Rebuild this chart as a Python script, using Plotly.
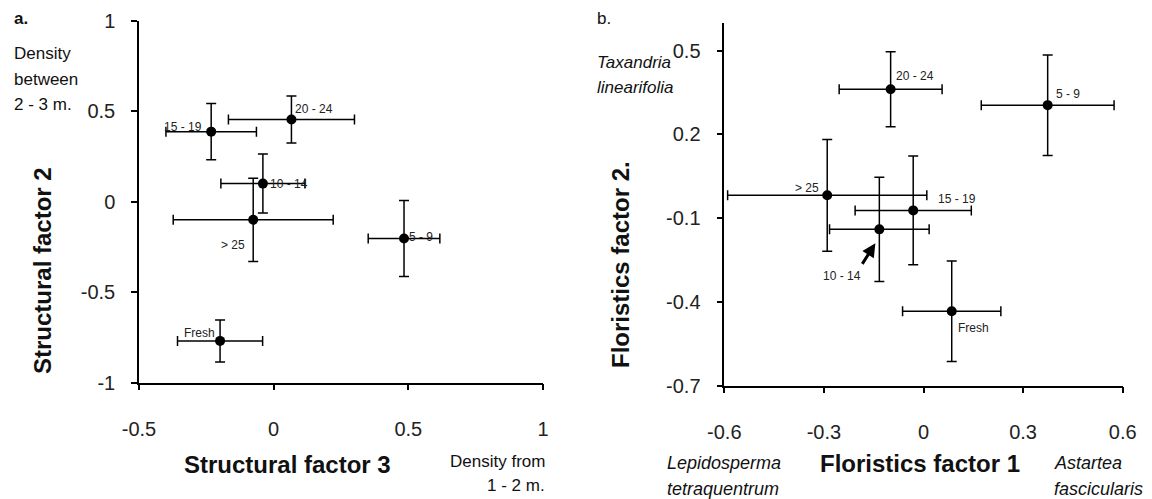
import plotly.graph_objects as go

# ---------------- data ----------------
groups = ["Fresh", "5 - 9", "10 - 14", "15 - 19", "20 - 24", "> 25"]

# Panel a: structural factors
struct_f3 = [-0.199, 0.484, -0.040, -0.232, 0.066, -0.076]
struct_f3_err = [0.158, 0.133, 0.156, 0.168, 0.234, 0.297]
struct_f2 = [-0.769, -0.203, 0.100, 0.387, 0.454, -0.100]
struct_f2_err = [0.116, 0.210, 0.163, 0.155, 0.130, 0.230]

# Panel b: floristic factors
flor_f1 = [0.085, 0.374, -0.133, -0.031, -0.099, -0.290]
flor_f1_err = [0.148, 0.200, 0.150, 0.175, 0.155, 0.300]
flor_f2 = [-0.433, 0.305, -0.140, -0.072, 0.362, -0.018]
flor_f2_err = [0.180, 0.180, 0.187, 0.195, 0.134, 0.200]

a_xticks = [-0.5, 0, 0.5, 1]
a_yticks = [-1, -0.5, 0, 0.5, 1]
b_xticks = [-0.6, -0.3, 0, 0.3, 0.6]
b_yticks = [-0.7, -0.4, -0.1, 0.2, 0.5]

# ---------------- styling ----------------
W, H = 1152, 499
FONT = "Arial, Liberation Sans, sans-serif"
# label placement (anchor, xshift, yshift) per group
a_lab = {"Fresh": ("right", -3, 8), "5 - 9": ("left", 3, 1), "10 - 14": ("left", 5, 0),
         "15 - 19": ("right", -7, 5), "20 - 24": ("left", 2, 11), "> 25": ("right", -6, -25)}
b_lab = {"Fresh": ("left", 4, -17), "5 - 9": ("left", 6, 11), "10 - 14": ("right", -16, -47),
         "15 - 19": ("left", 23, 11), "20 - 24": ("left", 3, 13), "> 25": ("right", -6, 7)}


def px(x):
    return x / W


def py(y):
    return 1 - y / H


fig = go.Figure()

err_style = dict(type="data", color="black", thickness=1.5, width=5)
fig.add_trace(go.Scatter(
    x=struct_f3, y=struct_f2, mode="markers",
    marker=dict(color="black", size=10),
    error_x=dict(array=struct_f3_err, **err_style),
    error_y=dict(array=struct_f2_err, **err_style),
    xaxis="x", yaxis="y", showlegend=False, hoverinfo="skip"))
fig.add_trace(go.Scatter(
    x=flor_f1, y=flor_f2, mode="markers",
    marker=dict(color="black", size=10),
    error_x=dict(array=flor_f1_err, **err_style),
    error_y=dict(array=flor_f2_err, **err_style),
    xaxis="x2", yaxis="y2", showlegend=False, hoverinfo="skip"))

axis_common = dict(showgrid=False, zeroline=False, showline=True, linecolor="black",
                   linewidth=1.5, ticks="outside", ticklen=6, tickwidth=1.5, tickcolor="black",
                   automargin=False,
                   tickfont=dict(family=FONT, size=20, color="#222"))

fig.update_layout(
    width=W, height=H, margin=dict(l=0, r=0, t=0, b=0),
    paper_bgcolor="white", plot_bgcolor="white",
    xaxis=dict(domain=[px(139), px(543)], range=[-0.5, 1], tickvals=a_xticks,
               ticktext=[str(v) for v in a_xticks], anchor="y",
               ticklabelstandoff=22, **axis_common),
    yaxis=dict(domain=[py(382.7), py(20.7)], range=[-1, 1], tickvals=a_yticks,
               ticktext=[str(v) for v in a_yticks], anchor="x",
               ticklabelstandoff=12, **axis_common),
    xaxis2=dict(domain=[px(724.3), px(1122.7)], range=[-0.6, 0.6], tickvals=b_xticks,
                ticktext=[str(v) for v in b_xticks], anchor="y2",
                ticklabelstandoff=22, **axis_common),
    yaxis2=dict(domain=[py(385.7), py(22.8)], range=[-0.7, 0.6], tickvals=b_yticks,
                ticktext=[str(v) for v in b_yticks], anchor="x2",
                ticklabelstandoff=12, **axis_common),
)

ann = []
# group labels
for g, x, y in zip(groups, struct_f3, struct_f2):
    anc, xs, ys = a_lab[g]
    ann.append(dict(x=x, y=y, xref="x", yref="y", text=g, showarrow=False,
                    xanchor=anc, yanchor="middle", xshift=xs, yshift=ys,
                    font=dict(family=FONT, size=12, color="#222")))
for g, x, y in zip(groups, flor_f1, flor_f2):
    anc, xs, ys = b_lab[g]
    ann.append(dict(x=x, y=y, xref="x2", yref="y2", text=g, showarrow=False,
                    xanchor=anc, yanchor="middle", xshift=xs, yshift=ys,
                    font=dict(family=FONT, size=12, color="#222")))

# arrow pointing at 10 - 14 in panel b
ann.append(dict(x=flor_f1[2] - 0.012, y=flor_f2[2] - 0.05, xref="x2", yref="y2", text="",
                showarrow=True, arrowhead=2, arrowsize=0.9, arrowwidth=3, arrowcolor="black",
                ax=-14, ay=22, axref="pixel", ayref="pixel"))


def txt(text, x, y, size, anchor="left", bold=False, italic=False, angle=0):
    t = text
    if bold:
        t = "<b>" + t + "</b>"
    if italic:
        t = "<i>" + t + "</i>"
    ann.append(dict(x=px(x), y=py(y), xref="paper", yref="paper", text=t, showarrow=False,
                    xanchor=anchor, yanchor="middle", textangle=angle,
                    font=dict(family=FONT, size=size, color="#111")))


txt("a.", 12, 18, 17, bold=True)
txt("Density", 12, 53, 17)
txt("between", 12, 79, 17)
txt("2 - 3 m.", 12, 104, 17)
txt("Structural factor 3", 287, 464, 24, anchor="center", bold=True)
txt("Density from", 547, 461, 17, anchor="right")
txt("1 - 2 m.", 547, 485, 17, anchor="right")
txt("Structural factor 2", 42, 271, 24, anchor="center", bold=True, angle=-90)

txt("b.", 595, 18, 17)
txt("Taxandria", 595, 62, 17, italic=True)
txt("linearifolia", 595, 87, 17, italic=True)
txt("Floristics factor 1", 920, 463, 24, anchor="center", bold=True)
txt("Lepidosperma", 665, 463, 18, italic=True)
txt("tetraquentrum", 665, 489, 18, italic=True)
txt("Astartea", 1052, 463, 18, italic=True)
txt("fascicularis", 1052, 489, 18, italic=True)
txt("Floristics factor 2.", 620, 265, 24, anchor="center", bold=True, angle=-90)

fig.update_layout(annotations=ann)
fig.write_html("out.html")
